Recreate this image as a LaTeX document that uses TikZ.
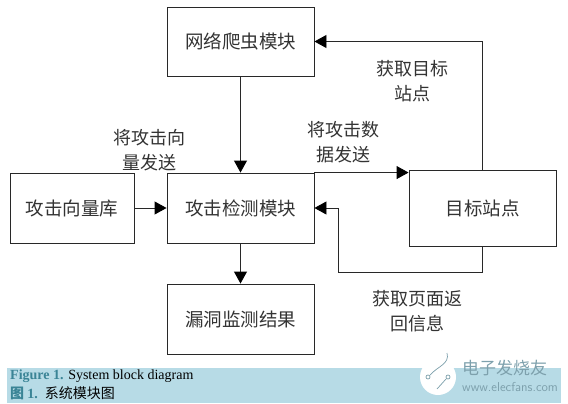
\documentclass[tikz,border=0pt]{standalone}
\usepackage{fontspec}
\usepackage{xcolor}
\usetikzlibrary{arrows.meta}
\setmainfont{Liberation Serif}
\newfontfamily\cjk{Noto Sans CJK SC}
\definecolor{bandblue}{RGB}{183,219,230}
\definecolor{capblue}{RGB}{58,132,150}
\definecolor{linegray}{RGB}{40,40,40}
\definecolor{markgray}{RGB}{125,160,172}

\begin{document}
\begin{tikzpicture}[
            x=1pt, y=-1pt,
            block/.style={draw=linegray, line width=0.9pt, font=\cjk\fontsize{18.5}{18.5}\selectfont, text=black!80},
            link/.style={draw=linegray, line width=0.9pt, -{Triangle[length=12pt,width=13pt,black]}},
            note/.style={align=center, font=\cjk\fontsize{18}{24.5}\selectfont, text=black!80},
            captext/.style={anchor=west, font=\fontsize{14}{14}\selectfont, inner sep=0pt},
            marktext/.style={text=markgray, anchor=west, inner sep=0pt}
        ]
            \useasboundingbox (0, 0) rectangle (568, 404);

            % caption band
            \fill[bandblue] (7, 368) rectangle (561, 403);
            \node[captext] (figen) at (10, 376) {\textcolor{capblue}{\textbf{Figure 1.}} System block diagram};
            \node[captext] (figcn) at (10, 393) {\textcolor{capblue}{\cjk\textbf{图}\ \rmfamily\textbf{1.}}\ \ \cjk 系统模块图};

            % blocks
            \node[block, minimum width=147pt, minimum height=69pt] (crawler) at (240.5, 41.5) {网络爬虫模块};
            \node[block, minimum width=147pt, minimum height=70pt] (detect) at (240.5, 208) {攻击检测模块};
            \node[block, minimum width=124pt, minimum height=70pt] (vectors) at (72, 208) {攻击向量库};
            \node[block, minimum width=147pt, minimum height=70pt] (result) at (240.5, 319) {漏洞监测结果};
            \node[block, minimum width=147pt, minimum height=76pt] (site) at (482.5, 208) {目标站点};

            % links
            \draw[link] (crawler) -- (detect);
            \draw[link] (vectors) -- (detect);
            \draw[link] (detect) -- (result);
            \draw[link] (detect.north east) -- (detect.north east -| site.west);
            \draw[link] (site.north) |- (crawler.east);
            \draw[link] (site.south) -- (482.5, 272) -| (338.5, 208) -- (detect.east);

            % labels
            \node[note] (lblvector) at (149, 150) {将攻击向\\量发送};
            \node[note] (lbldata) at (343, 142) {将攻击数\\据发送};
            \node[note] (lblsite) at (412, 81) {获取目标\\站点};
            \node[note] (lblpage) at (417, 311) {获取页面返\\回信息};

            % watermark
            \fill[white] (438, 377) circle (18pt);
            \draw[markgray, line width=0.7pt] (428, 377) circle (2pt) (448, 377) circle (2pt);
            \draw[markgray, line width=0.7pt] (447, 353) .. controls (450, 364) and (438, 366) .. (430, 375);
            \draw[markgray, line width=0.7pt] (446, 379) -- (437, 389);
            \node[marktext, font=\cjk\fontsize{17}{17}\selectfont] (markcn) at (462, 368) {电子发烧友};
            \node[marktext, font=\sffamily\fontsize{12.9}{12}\selectfont] (markurl) at (462, 387) {www.elecfans.com};
        \end{tikzpicture}
\end{document}
